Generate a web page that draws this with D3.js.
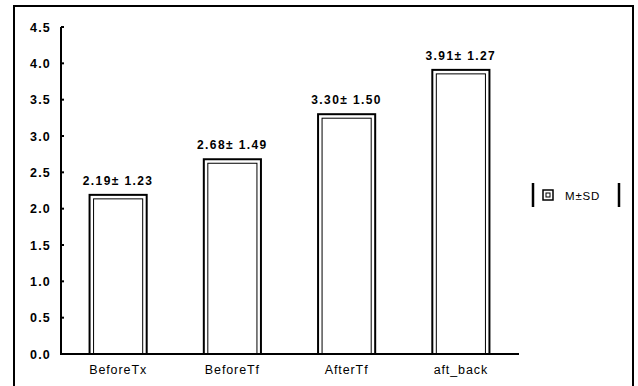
<html>
<head>
  <script src="https://cdn.jsdelivr.net/npm/d3@7"></script>
<style type="text/css">
body { margin: 0; background: #fff; }
text { font-family: "Liberation Sans", Arial, sans-serif; fill: #000; }
</style>
</head>
<body>
<script type="text/javascript">
// values
var categories = ['BeforeTx', 'BeforeTf', 'AfterTf', 'aft_back'];
var means = [2.19, 2.68, 3.30, 3.91];
var sds = [1.23, 1.49, 1.50, 1.27];
var yTicks = [0, 0.5, 1.0, 1.5, 2.0, 2.5, 3.0, 3.5, 4.0, 4.5];

var w = 638, h = 386;

var svg = d3.select('body').append('svg')
  .attr('width', w)
  .attr('height', h);

// outer frame
svg.append('path')
  .attr('d', 'M14,' + h + 'V6H633V' + h)
  .attr('fill', 'none')
  .attr('stroke', '#000')
  .attr('stroke-width', 2);

var x = d3.scaleBand()
  .domain(categories)
  .range([61, 518])
  .paddingInner(0.5)
  .paddingOuter(0.25);

var y = d3.scaleLinear()
  .domain([0, 4.5])
  .range([354, 27]);

// y axis
var yAxis = svg.append('g');
yAxis.append('line')
  .attr('x1', 61).attr('x2', 61)
  .attr('y1', y(4.5)).attr('y2', y(0))
  .attr('stroke', '#000').attr('stroke-width', 2);
yAxis.selectAll('.tk')
  .data(yTicks).enter()
  .append('line')
  .attr('x1', 61).attr('x2', 64)
  .attr('y1', function(d) { return y(d); })
  .attr('y2', function(d) { return y(d); })
  .attr('stroke', '#000').attr('stroke-width', 2);
yAxis.selectAll('text')
  .data(yTicks).enter()
  .append('text')
  .attr('x', 51)
  .attr('y', function(d) { return y(d) + 4.5; })
  .attr('text-anchor', 'end')
  .attr('font-size', 12.5)
  .attr('font-weight', 'bold')
  .attr('letter-spacing', 1.2)
  .text(function(d) { return d.toFixed(1); });

// x axis line
svg.append('line')
  .attr('x1', 60).attr('x2', 519)
  .attr('y1', y(0)).attr('y2', y(0))
  .attr('stroke', '#000').attr('stroke-width', 2);

// bars: double outline
var bars = svg.selectAll('.bar')
  .data(categories).enter()
  .append('g');

bars.append('rect')
  .attr('x', function(d) { return x(d); })
  .attr('y', function(d, i) { return y(means[i]); })
  .attr('width', x.bandwidth())
  .attr('height', function(d, i) { return y(0) - y(means[i]); })
  .attr('fill', '#fff')
  .attr('stroke', '#000')
  .attr('stroke-width', 2);

bars.append('rect')
  .attr('x', function(d) { return x(d) + 4; })
  .attr('y', function(d, i) { return y(means[i]) + 4; })
  .attr('width', x.bandwidth() - 8)
  .attr('height', function(d, i) { return y(0) - y(means[i]) - 4; })
  .attr('fill', 'none')
  .attr('stroke', '#000')
  .attr('stroke-width', 1);

bars.append('text')
  .attr('x', function(d) { return x(d) + x.bandwidth() / 2; })
  .attr('y', function(d, i) { return y(means[i]) - 10; })
  .attr('text-anchor', 'middle')
  .attr('font-size', 12)
  .attr('font-weight', 'bold')
  .attr('letter-spacing', 1.4)
  .text(function(d, i) { return means[i].toFixed(2) + '\u00b1 ' + sds[i].toFixed(2); });

// category labels
svg.selectAll('.xl')
  .data(categories).enter()
  .append('text')
  .attr('x', function(d) { return x(d) + x.bandwidth() / 2; })
  .attr('y', 374)
  .attr('text-anchor', 'middle')
  .attr('font-size', 12.5)
  .attr('letter-spacing', 0.9)
  .text(function(d) { return d; });

// legend
var lg = svg.append('g');
lg.append('line').attr('x1', 533).attr('x2', 533).attr('y1', 183).attr('y2', 207)
  .attr('stroke', '#000').attr('stroke-width', 2.5);
lg.append('line').attr('x1', 619).attr('x2', 619).attr('y1', 183).attr('y2', 207)
  .attr('stroke', '#000').attr('stroke-width', 2.5);
lg.append('rect').attr('x', 543).attr('y', 190).attr('width', 10).attr('height', 10)
  .attr('fill', '#fff').attr('stroke', '#000').attr('stroke-width', 1.5);
lg.append('rect').attr('x', 546).attr('y', 193).attr('width', 4).attr('height', 4)
  .attr('fill', 'none').attr('stroke', '#000').attr('stroke-width', 1);
lg.append('text').attr('x', 565).attr('y', 199.5)
  .attr('font-size', 11.5).attr('letter-spacing', 0.8)
  .text('M\u00b1SD');
</script>
</body>
</html>
